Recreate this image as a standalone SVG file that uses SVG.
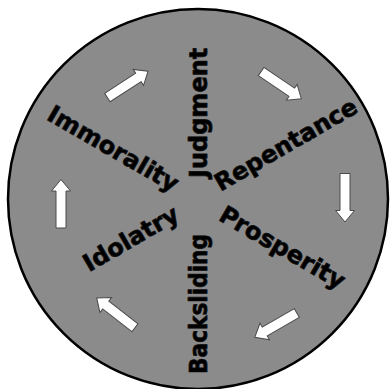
<svg xmlns="http://www.w3.org/2000/svg" width="391" height="389" viewBox="0 0 391 389">
<defs>
<style>
.lbl{font-family:"DejaVu Sans","Verdana",sans-serif;font-weight:bold;font-size:24px;fill:#000;stroke:#111;stroke-width:0.8;stroke-linejoin:round}
.arr{fill:#fff;stroke:#4a4a4a;stroke-width:1}
</style>
<path id="arrow" d="M-24,-5 H13 V-9.5 L24.5,0 L13,9.5 V5 H-24 Z"/>
</defs>
<rect width="391" height="389" fill="#fff"/>
<circle id="wheel" cx="198" cy="199" r="190" fill="#8b8b8b" stroke="#000" stroke-width="2.5"/>
<g id="connectors">
<use href="#arrow" class="arr" transform="translate(127.5,84.5) rotate(-33)"/>
<use href="#arrow" class="arr" transform="translate(281,85) rotate(34)"/>
<use href="#arrow" class="arr" transform="translate(345,197.5) rotate(90)"/>
<use href="#arrow" class="arr" transform="translate(276,325) rotate(150)"/>
<use href="#arrow" class="arr" transform="translate(116,313) rotate(-142)"/>
<use href="#arrow" class="arr" transform="translate(61,204) rotate(-90)"/>
</g>
<g id="judgment"><text class="lbl" transform="translate(198,199) rotate(-90)" x="21" y="9">Judgment</text></g>
<g id="repentance"><text class="lbl" transform="translate(198,199) rotate(-30)" x="23" y="5">Repentance</text></g>
<g id="prosperity"><text class="lbl" transform="translate(198,199) rotate(30)" x="27" y="8">Prosperity</text></g>
<g id="backsliding"><text class="lbl" transform="translate(198,199) rotate(-90)" x="-35" y="9" text-anchor="end" textLength="140" lengthAdjust="spacingAndGlyphs">Backsliding</text></g>
<g id="idolatry"><text class="lbl" transform="translate(198,199) rotate(-30)" x="-25" y="9" text-anchor="end">Idolatry</text></g>
<g id="immorality"><text class="lbl" transform="translate(198,199) rotate(30)" x="-25" y="7" text-anchor="end">Immorality</text></g>
</svg>
